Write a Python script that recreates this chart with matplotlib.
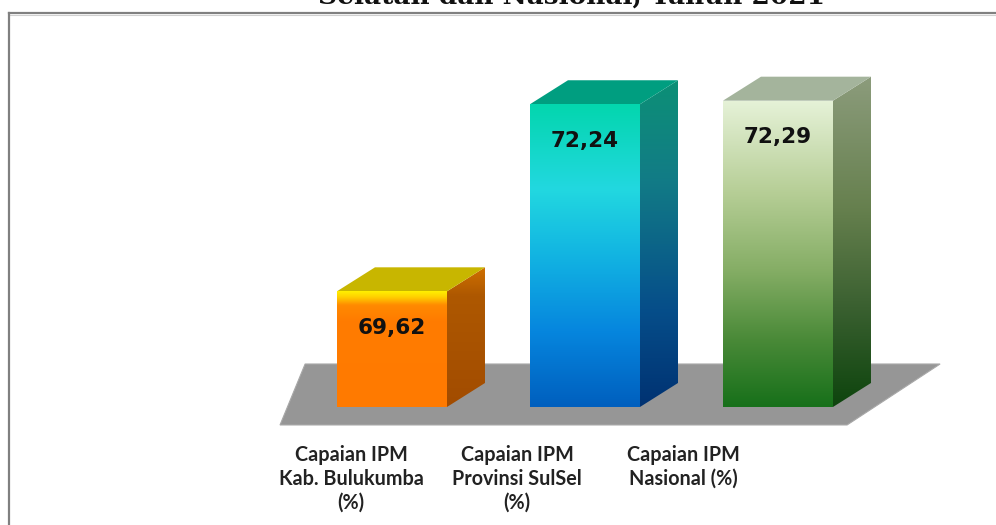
import numpy as np
import matplotlib
matplotlib.use("Agg")
import matplotlib.pyplot as plt
from matplotlib.patches import Polygon
from matplotlib.colors import LinearSegmentedColormap
from matplotlib.lines import Line2D

# ---- data ----
categories = ["Capaian IPM\nKab. Bulukumba\n(%)",
              "Capaian IPM\nProvinsi SulSel\n(%)",
              "Capaian IPM\nNasional (%)"]
values = [69.62, 72.24, 72.29]
value_labels = ["69,62", "72,24", "72,29"]
title = "Selatan dan Nasional, Tahun 2021"

front_stops = [
    [(0.0, "#FFF000"), (0.05, "#FFD000"), (0.12, "#FF8A00"), (0.25, "#FF7C00"), (1.0, "#FF7A00")],
    [(0.0, "#03D6AE"), (0.28, "#22D8E0"), (0.5, "#12B4E2"), (0.75, "#0686DE"), (1.0, "#005FBE")],
    [(0.0, "#E6F2D8"), (0.3, "#B6CE96"), (0.55, "#86AE66"), (0.78, "#4A8A38"), (1.0, "#17701A")],
]
side_stops = [
    [(0.0, "#D07000"), (0.2, "#AE5800"), (1.0, "#A24C00")],
    [(0.0, "#0C9076"), (0.3, "#127C86"), (0.7, "#064E8A"), (1.0, "#003272")],
    [(0.0, "#8C9C7C"), (0.4, "#66804E"), (0.7, "#3A6030"), (1.0, "#0D440D")],
]
top_colors = ["#C8B600", "#009E80", "#A4B49C"]

# ---- figure ----
fig = plt.figure(figsize=(9.96, 5.25), dpi=100)
ax = fig.add_axes([0.2482, 0.1568, 0.7073, 0.748])
XL, YL = (-0.75, 2.9), (67.5, 73.0)
ax.set_xlim(*XL)
ax.set_ylim(*YL)
ax.axis("off")

x = np.arange(len(values))
base = 68.0
w = 0.57
ddx, ddy = 0.197, 0.336


def grad_fill(verts, stops, z):
    poly = Polygon(verts, closed=True, facecolor="none", edgecolor="none", zorder=z)
    ax.add_patch(poly)
    xs = [p[0] for p in verts]
    ys = [p[1] for p in verts]
    cmap = LinearSegmentedColormap.from_list("g", stops)
    grad = np.linspace(1, 0, 256).reshape(-1, 1)
    im = ax.imshow(grad, extent=[min(xs), max(xs), min(ys), max(ys)], origin="lower",
                   aspect="auto", cmap=cmap, vmin=0, vmax=1, interpolation="bicubic", zorder=z)
    im.set_clip_path(poly)


# floor
floor = Polygon([(x[0] - 0.58, 67.748), (x[-1] + 0.358, 67.748),
                 (x[-1] + 0.84, 68.602), (x[0] - 0.45, 68.602)],
                closed=True, facecolor="#969696", edgecolor="#A8A8A8", lw=0.8, zorder=1)
ax.add_patch(floor)

for i, v in enumerate(values):
    c = x[i]
    l, r = c - w / 2, c + w / 2
    # side
    grad_fill([(r, base), (r + ddx, base + ddy), (r + ddx, v + ddy), (r, v)], side_stops[i], 2)
    # top
    ax.add_patch(Polygon([(l, v), (r, v), (r + ddx, v + ddy), (l + ddx, v + ddy)],
                         closed=True, facecolor=top_colors[i], edgecolor="none", zorder=3))
    # front
    grad_fill([(l, base), (r, base), (r, v), (l, v)], front_stops[i], 4)
    ax.text(c, v - 0.51, value_labels[i], ha="center", va="center",
            fontsize=15.5, fontweight="bold", family="DejaVu Sans", color="#111111", zorder=6)

for i, cat in enumerate(categories):
    ax.text(x[i] * 0.86 - 0.212, 67.47, cat, ha="center", va="top", fontsize=14.2,
            fontweight="bold", family="Lato", color="#222222", linespacing=1.25, zorder=6)

ax.set_xlim(*XL)
ax.set_ylim(*YL)

# title (cut off at top)
fig.text(571 / 996, 1 - 4 / 525, title, ha="center", va="baseline",
         fontsize=19, fontweight="bold", family="DejaVu Serif", color="#111111")

# border
fig.add_artist(Line2D([9 / 996, 1.0], [1 - 13 / 525, 1 - 13 / 525], color="#808080", lw=1.6))
fig.add_artist(Line2D([9 / 996, 1.0], [1 - 15 / 525, 1 - 15 / 525], color="#D0D0D0", lw=0.8))
fig.add_artist(Line2D([9 / 996, 9 / 996], [1 - 13 / 525, 0.0], color="#808080", lw=1.6))

fig.savefig("out.png", dpi=100)
